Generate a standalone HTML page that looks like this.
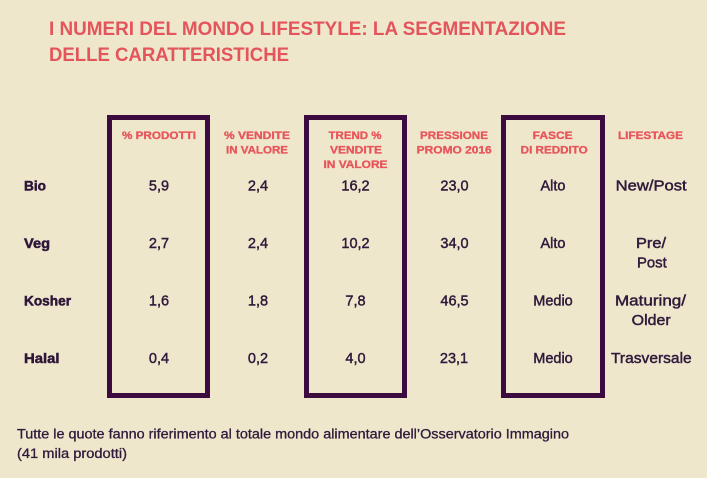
<!DOCTYPE html>
<html>
<head>
<meta charset="utf-8">
<style>
html,body{margin:0;padding:0;background:#EEE7CC;}
svg{display:block;}
.t{font-family:"Liberation Sans",sans-serif;font-weight:bold;fill:#E4545B;font-size:19.5px;}
.h{font-family:"Liberation Sans",sans-serif;font-weight:bold;fill:#E8555B;font-size:11.3px;stroke:#E8555B;stroke-width:0.35px;}
.r{font-family:"Liberation Sans",sans-serif;font-weight:bold;fill:#2E1638;font-size:14px;stroke:#2E1638;stroke-width:0.5px;}
.v{font-family:"Liberation Sans",sans-serif;font-weight:normal;fill:#2E1A3B;font-size:14.5px;stroke:#2E1A3B;stroke-width:0.45px;}
.f{font-family:"Liberation Sans",sans-serif;font-weight:normal;fill:#2E1A3B;font-size:13.5px;stroke:#2E1A3B;stroke-width:0.3px;}
</style>
</head>
<body>
<svg width="707" height="478" viewBox="0 0 707 478" xmlns="http://www.w3.org/2000/svg">
<rect x="0" y="0" width="707" height="478" fill="#EEE7CC"/>
<!-- title -->
<text class="t" x="49" y="35" textLength="517" lengthAdjust="spacingAndGlyphs">I NUMERI DEL MONDO LIFESTYLE: LA SEGMENTAZIONE</text>
<text class="t" x="49" y="61" textLength="240" lengthAdjust="spacingAndGlyphs">DELLE CARATTERISTICHE</text>

<!-- boxes -->
<rect x="109.5" y="117.5" width="98" height="278" fill="none" stroke="#3C0B40" stroke-width="5"/>
<rect x="306.5" y="117.5" width="98" height="278" fill="none" stroke="#3C0B40" stroke-width="5"/>
<rect x="503.5" y="117.5" width="99" height="278" fill="none" stroke="#3C0B40" stroke-width="5"/>

<!-- headers -->
<text class="h" x="122" y="139" textLength="74" lengthAdjust="spacingAndGlyphs">% PRODOTTI</text>
<text class="h" x="224" y="139" textLength="66" lengthAdjust="spacingAndGlyphs">% VENDITE</text>
<text class="h" x="226" y="153.5" textLength="62" lengthAdjust="spacingAndGlyphs">IN VALORE</text>
<text class="h" x="328.5" y="139" textLength="53" lengthAdjust="spacingAndGlyphs">TREND %</text>
<text class="h" x="330" y="153.5" textLength="52" lengthAdjust="spacingAndGlyphs">VENDITE</text>
<text class="h" x="323.5" y="168" textLength="64" lengthAdjust="spacingAndGlyphs">IN VALORE</text>
<text class="h" x="420" y="139" textLength="68" lengthAdjust="spacingAndGlyphs">PRESSIONE</text>
<text class="h" x="416.7" y="153.5" textLength="75" lengthAdjust="spacingAndGlyphs">PROMO 2016</text>
<text class="h" x="532.7" y="139" textLength="40" lengthAdjust="spacingAndGlyphs">FASCE</text>
<text class="h" x="520.7" y="153.5" textLength="67" lengthAdjust="spacingAndGlyphs">DI REDDITO</text>
<text class="h" x="618" y="139" textLength="65" lengthAdjust="spacingAndGlyphs">LIFESTAGE</text>

<!-- row labels -->
<text class="r" x="24" y="190.5" textLength="22" lengthAdjust="spacingAndGlyphs">Bio</text>
<text class="r" x="24" y="248" textLength="26" lengthAdjust="spacingAndGlyphs">Veg</text>
<text class="r" x="24" y="305.5" textLength="47" lengthAdjust="spacingAndGlyphs">Kosher</text>
<text class="r" x="24" y="363" textLength="35.5" lengthAdjust="spacingAndGlyphs">Halal</text>

<!-- values -->
<g text-anchor="middle">
<text class="v" x="159" y="190.5">5,9</text>
<text class="v" x="258" y="190.5">2,4</text>
<text class="v" x="355.5" y="190.5">16,2</text>
<text class="v" x="454.5" y="190.5">23,0</text>
<text class="v" x="553" y="190.5">Alto</text>

<text class="v" x="159" y="248">2,7</text>
<text class="v" x="258" y="248">2,4</text>
<text class="v" x="355.5" y="248">10,2</text>
<text class="v" x="454.5" y="248">34,0</text>
<text class="v" x="553" y="248">Alto</text>

<text class="v" x="159" y="305.5">1,6</text>
<text class="v" x="258" y="305.5">1,8</text>
<text class="v" x="355.5" y="305.5">7,8</text>
<text class="v" x="454.5" y="305.5">46,5</text>
<text class="v" x="553" y="305.5">Medio</text>

<text class="v" x="159" y="363">0,4</text>
<text class="v" x="258" y="363">0,2</text>
<text class="v" x="355.5" y="363">4,0</text>
<text class="v" x="454" y="363">23,1</text>
<text class="v" x="553" y="363">Medio</text>
</g>

<!-- lifestage -->
<text class="v" x="615.7" y="190.5" textLength="71" lengthAdjust="spacingAndGlyphs">New/Post</text>
<text class="v" x="636" y="248" textLength="30" lengthAdjust="spacingAndGlyphs">Pre/</text>
<text class="v" x="637" y="267.3" textLength="29.7" lengthAdjust="spacingAndGlyphs">Post</text>
<text class="v" x="615" y="305.5" textLength="71" lengthAdjust="spacingAndGlyphs">Maturing/</text>
<text class="v" x="631.7" y="325" textLength="39" lengthAdjust="spacingAndGlyphs">Older</text>
<text class="v" x="611" y="363" textLength="80.7" lengthAdjust="spacingAndGlyphs">Trasversale</text>

<!-- footnote -->
<text class="f" x="17" y="438.5" textLength="552" lengthAdjust="spacingAndGlyphs">Tutte le quote fanno riferimento al totale mondo alimentare dell’Osservatorio Immagino</text>
<text class="f" x="17" y="458" textLength="110" lengthAdjust="spacingAndGlyphs">(41 mila prodotti)</text>
</svg>
</body>
</html>
